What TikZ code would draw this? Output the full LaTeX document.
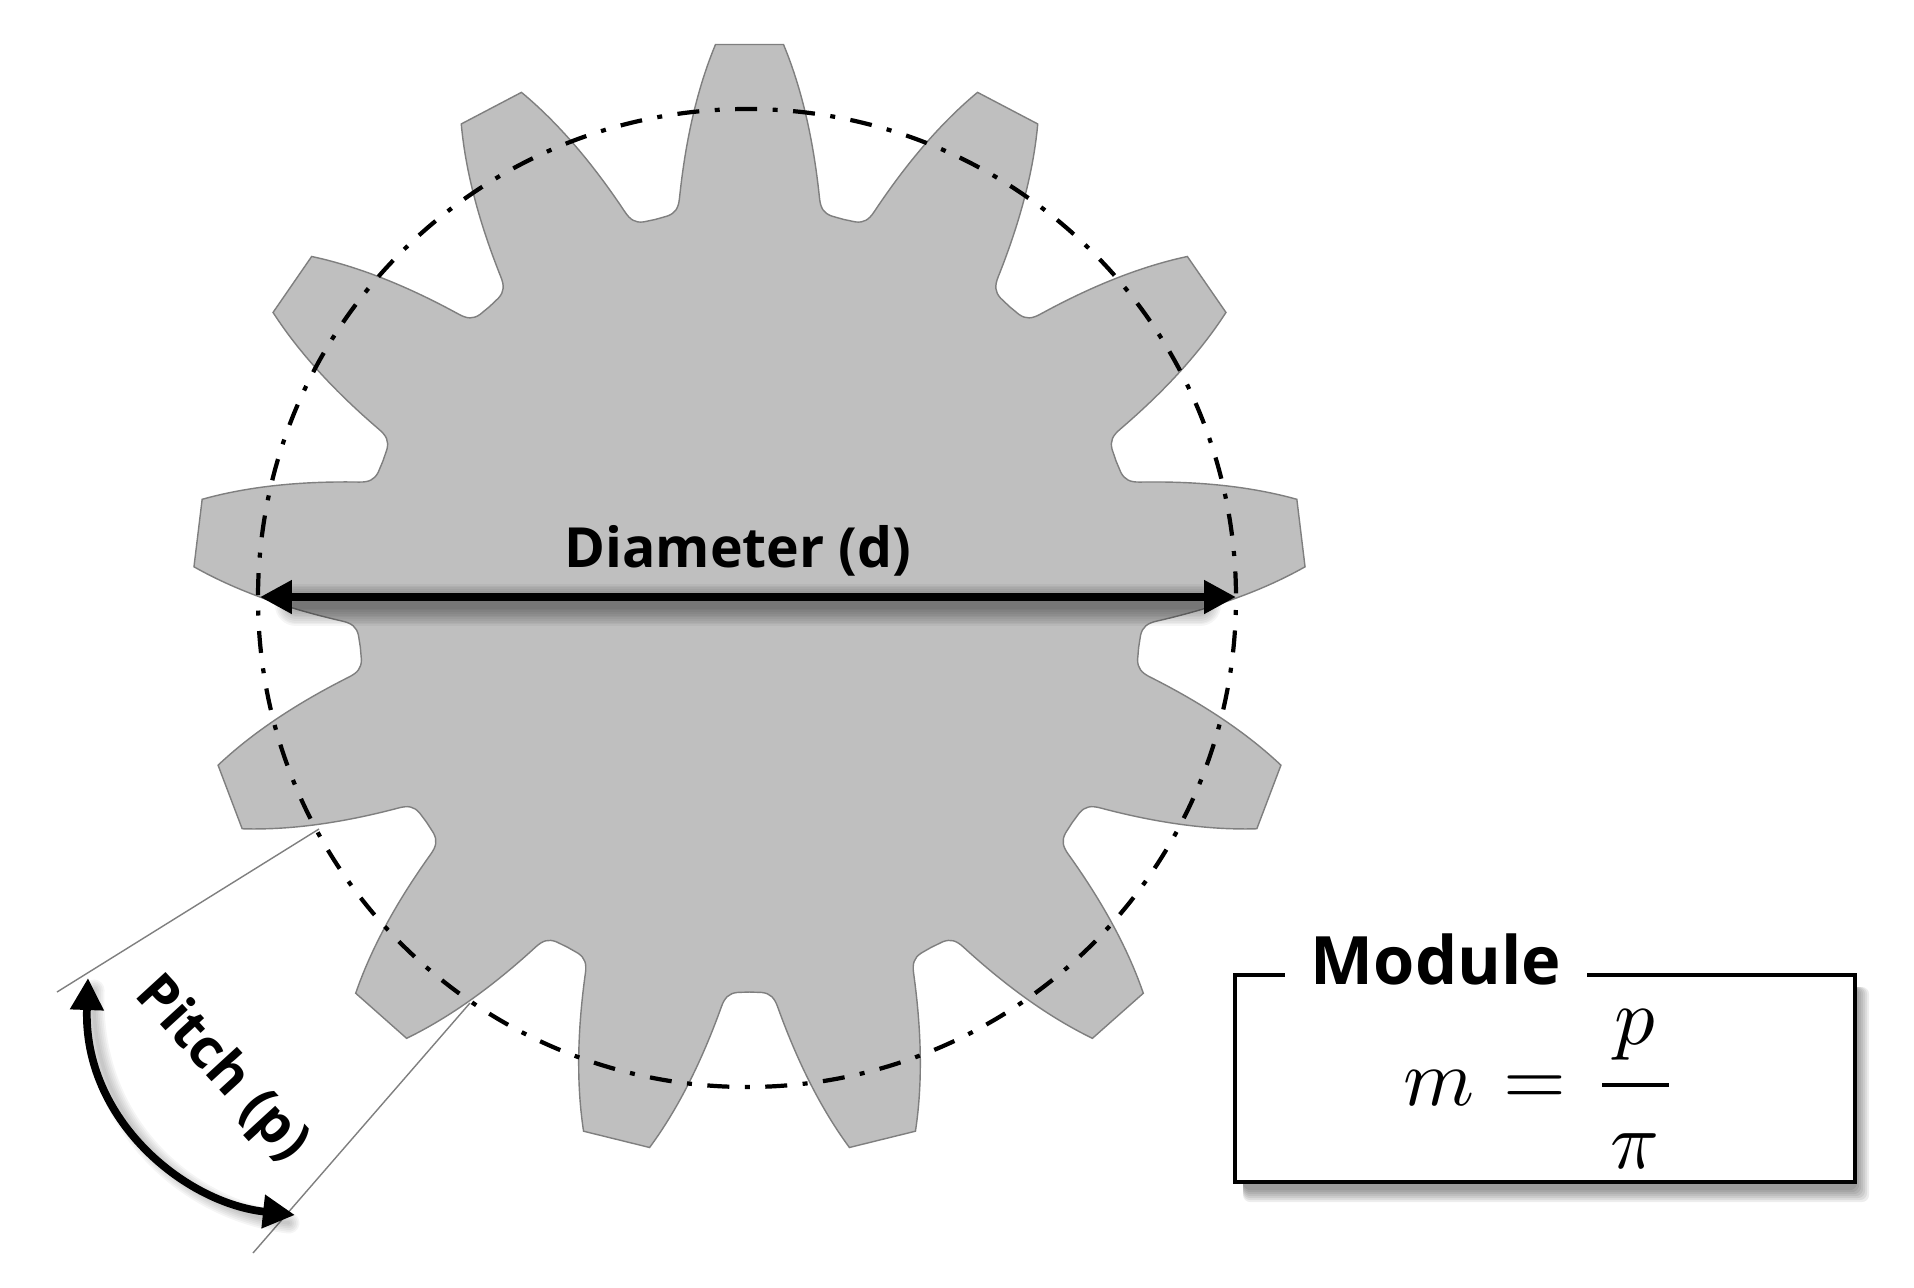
\documentclass[tikz,border=0pt]{standalone}
\usepackage{amsmath}
\usepackage{graphicx}
\usepackage{fontspec}
\setmainfont{Open Sans}
\usetikzlibrary{arrows.meta}
\definecolor{gearfill}{HTML}{BFBFBF}
\definecolor{gearline}{HTML}{7F7F7F}
\tikzset{
	tooth/.style={shift={(749.5,600)},rotate=#1},
	gearbody/.style={fill=gearfill,draw=gearline,line width=0.8pt},
	pitchcircle/.style={draw=black,line width=2.4pt,dash pattern=on 0.44cm off 0.31cm on 0.1cm off 0.3094cm,dash phase=0.51cm},
	thinline/.style={draw=gearline,line width=0.8pt},
	bigarrow/.style={line width=4.4pt,{Triangle[length=0.64cm,width=0.64cm]}-{Triangle[length=0.64cm,width=0.64cm]}},
	softshade/.style={draw=black,opacity=0.04,line cap=round},
	labeltext/.style={font=\fontsize{31.5}{37}\selectfont\bfseries,inner sep=0pt},
	modulebox/.style={draw=black,fill=white,line width=2.4pt,minimum width=620*0.02cm,minimum height=207*0.02cm,inner sep=0pt},
}
\begin{document}
\begin{tikzpicture}[x=0.02cm,y=-0.02cm]
	\useasboundingbox (0,0) rectangle (1914,1288);
	%% gear
	\draw[gearbody] ([tooth=0]-94,-380.6)
		\foreach \n [evaluate=\n as \a using -\n*360/13] in {0,...,12}{
			-- ([tooth=\a]-82,-384) .. controls ([tooth=\a]-74,-387) and ([tooth=\a]-71,-392) .. ([tooth=\a]-70,-402)
			.. controls ([tooth=\a]-65,-450) and ([tooth=\a]-55,-505) .. ([tooth=\a]-34,-555.5)
			-- ([tooth=\a]34,-555.5)
			.. controls ([tooth=\a]55,-505) and ([tooth=\a]65,-450) .. ([tooth=\a]70,-402)
			.. controls ([tooth=\a]71,-392) and ([tooth=\a]74,-387) .. ([tooth=\a]82,-384)
			-- ([tooth=\a]94,-380.6)
		} -- cycle;
	\coordinate (gc) at (747,598);
	\draw[pitchcircle] (gc) circle[radius=489];
	%% diameter
	\coordinate (dl) at (260,597);
	\coordinate (dr) at (1236,597);
	\foreach \w in {4,6,...,24}{
		\draw[softshade,line width=\w pt] ([shift={(36,8)}]dl) -- ([shift={(-36,8)}]dr);
	}
	\draw[bigarrow] (dl) -- (dr);
	\node[labeltext,anchor=base] (dlabel) at (738,567) {Diameter (d)};
	%% pitch
	\coordinate (pa1) at (319,829);
	\coordinate (pa2) at (57,992);
	\coordinate (pb1) at (470,1003);
	\coordinate (pb2) at (253,1253);
	\draw[thinline] (pa1) -- (pa2);
	\draw[thinline] (pb1) -- (pb2);
	\coordinate (ps) at (88,978);
	\coordinate (pe) at (295,1215);
	\coordinate (pc1) at (83,1120);
	\coordinate (pc2) at (185,1203);
	\foreach \w in {2,4,...,12}{
		\draw[softshade,line width=\w pt] ([shift={(6,12)}]ps) .. controls ([shift={(6,8)}]pc1) and ([shift={(6,8)}]pc2) .. ([shift={(-6,8)}]pe);
	}
	\draw[bigarrow] (ps) .. controls (pc1) and (pc2) .. (pe);
	\node[labeltext,rotate=-47.5] (plabel) at (221,1070) {Pitch (p)};
	%% module box
	\coordinate (mc) at (1545,1078.5);
	\foreach \s in {2,4,...,14}{
		\fill[black,opacity=0.07,rounded corners=4pt] ([shift={(8,12)}]1235,975) rectangle ([shift={(\s,\s+6)}]1855,1182);
	}
	\node[modulebox] (mbox) at (mc) {};
	\node[font=\fontsize{38}{44}\selectfont\bfseries,fill=white,inner xsep=14.7pt,inner ysep=0pt,anchor=base] (mlabel) at (1436,984) {Module};
	\node[inner sep=0pt,anchor=base west] (mform) at (1403,1105)
		{\scalebox{4.6}{$m\hspace{0.87pt} = \hspace{0.4pt}\genfrac{}{}{0.48pt}{0}{\hspace{1.6pt}p\hspace{1.6pt}\rule[-3.26pt]{0pt}{0pt}}{\rule{0pt}{8.7pt}\pi}$}};
\end{tikzpicture}
\end{document}
